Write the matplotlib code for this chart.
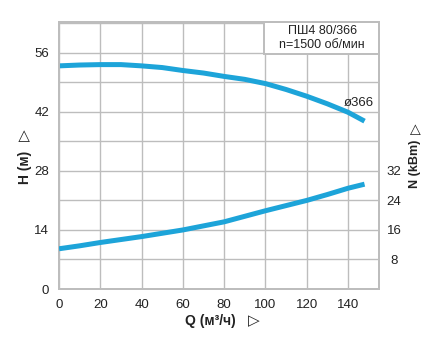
import numpy as np
import matplotlib.pyplot as plt
from matplotlib.patches import Rectangle
from matplotlib.ticker import MultipleLocator

plt.rcParams['font.family'] = ['Liberation Sans', 'DejaVu Sans']

q = [0, 10, 20, 30, 40, 50, 60, 70, 80, 90, 100, 110, 120, 130, 140, 148]
head = [52.9, 53.1, 53.2, 53.2, 52.9, 52.5, 51.8, 51.2, 50.4, 49.7, 48.7, 47.3, 45.7, 43.9, 41.9, 39.8]
power = [10.9, 11.7, 12.6, 13.4, 14.2, 15.1, 16.0, 17.1, 18.2, 19.7, 21.2, 22.6, 24.0, 25.6, 27.3, 28.4]

h_ticks = [0, 14, 28, 42, 56]
n_ticks = [8, 16, 24, 32]
q_ticks = [0, 20, 40, 60, 80, 100, 120, 140]

blue = '#1da4d9'
grid_c = '#bdbdbd'
txt_c = '#222222'

W, H = 435, 338
fig = plt.figure(figsize=(W / 100, H / 100), dpi=100)
ax = fig.add_axes([59 / W, 49 / H, 320 / W, 267 / H])
ax2 = ax.twinx()

ax.set_xlim(0, 155)
ax.set_ylim(0, 63.3)
ax2.set_ylim(0, 63.3 * 8 / 7)

ax.set_xticks(q_ticks)
ax.set_yticks(h_ticks)
ax.yaxis.set_minor_locator(MultipleLocator(7))
ax2.set_yticks(n_ticks)

ax.grid(True, which='both', color=grid_c, linewidth=1.0)
ax.set_axisbelow(True)
for a in (ax, ax2):
    for s in a.spines.values():
        s.set_color(grid_c)
        s.set_linewidth(1.4)
    a.tick_params(which='both', length=0, labelsize=9.5, colors=txt_c)
ax.tick_params(axis='x', pad=7)
ax.tick_params(axis='y', pad=7)
ax2.tick_params(axis='y', pad=0)
for lbl in ax2.get_yticklabels():
    lbl.set_horizontalalignment('center')
    lbl.set_x(1.047)

ax.plot(q, head, color=blue, linewidth=3.6, solid_capstyle='butt', zorder=3)
ax2.plot(q, power, color=blue, linewidth=3.6, solid_capstyle='butt', zorder=3)

# title box
ax.add_patch(Rectangle((99.5, 55.8), 55.5, 7.5, facecolor='white',
                       edgecolor=grid_c, linewidth=1.4, zorder=4))
ax.text(127.5, 59.5, 'ПШ4 80/366\nn=1500 об/мин', ha='center', va='center',
        fontsize=9, linespacing=1.25, zorder=5, color=txt_c)

ax.text(145, 44.0, 'ø366', ha='center', va='center', fontsize=9.5, color=txt_c)

# axis titles with outline arrows
def fx(x):
    return x / W

def fy(y):
    return 1 - y / H

lab = dict(fontsize=10, fontweight='bold', color=txt_c, ha='center', va='center')
tri = dict(fontsize=11, fontweight='bold', color=txt_c, ha='center', va='center',
           family='DejaVu Sans')

fig.text(fx(210), fy(321), 'Q (м³/ч)', **lab)
fig.text(fx(254), fy(321), '▷', **tri)

fig.text(fx(25), fy(167), 'H (м)', rotation=90, **lab)
fig.text(fx(25), fy(135), '▷', rotation=90, **tri)

fig.text(fx(415), fy(164), 'N (kBm)', rotation=90,
         **{**lab, 'fontsize': 9})
fig.text(fx(415), fy(129), '▷', rotation=90, **{**tri, 'fontsize': 10})

fig.savefig('out.png', dpi=100)
